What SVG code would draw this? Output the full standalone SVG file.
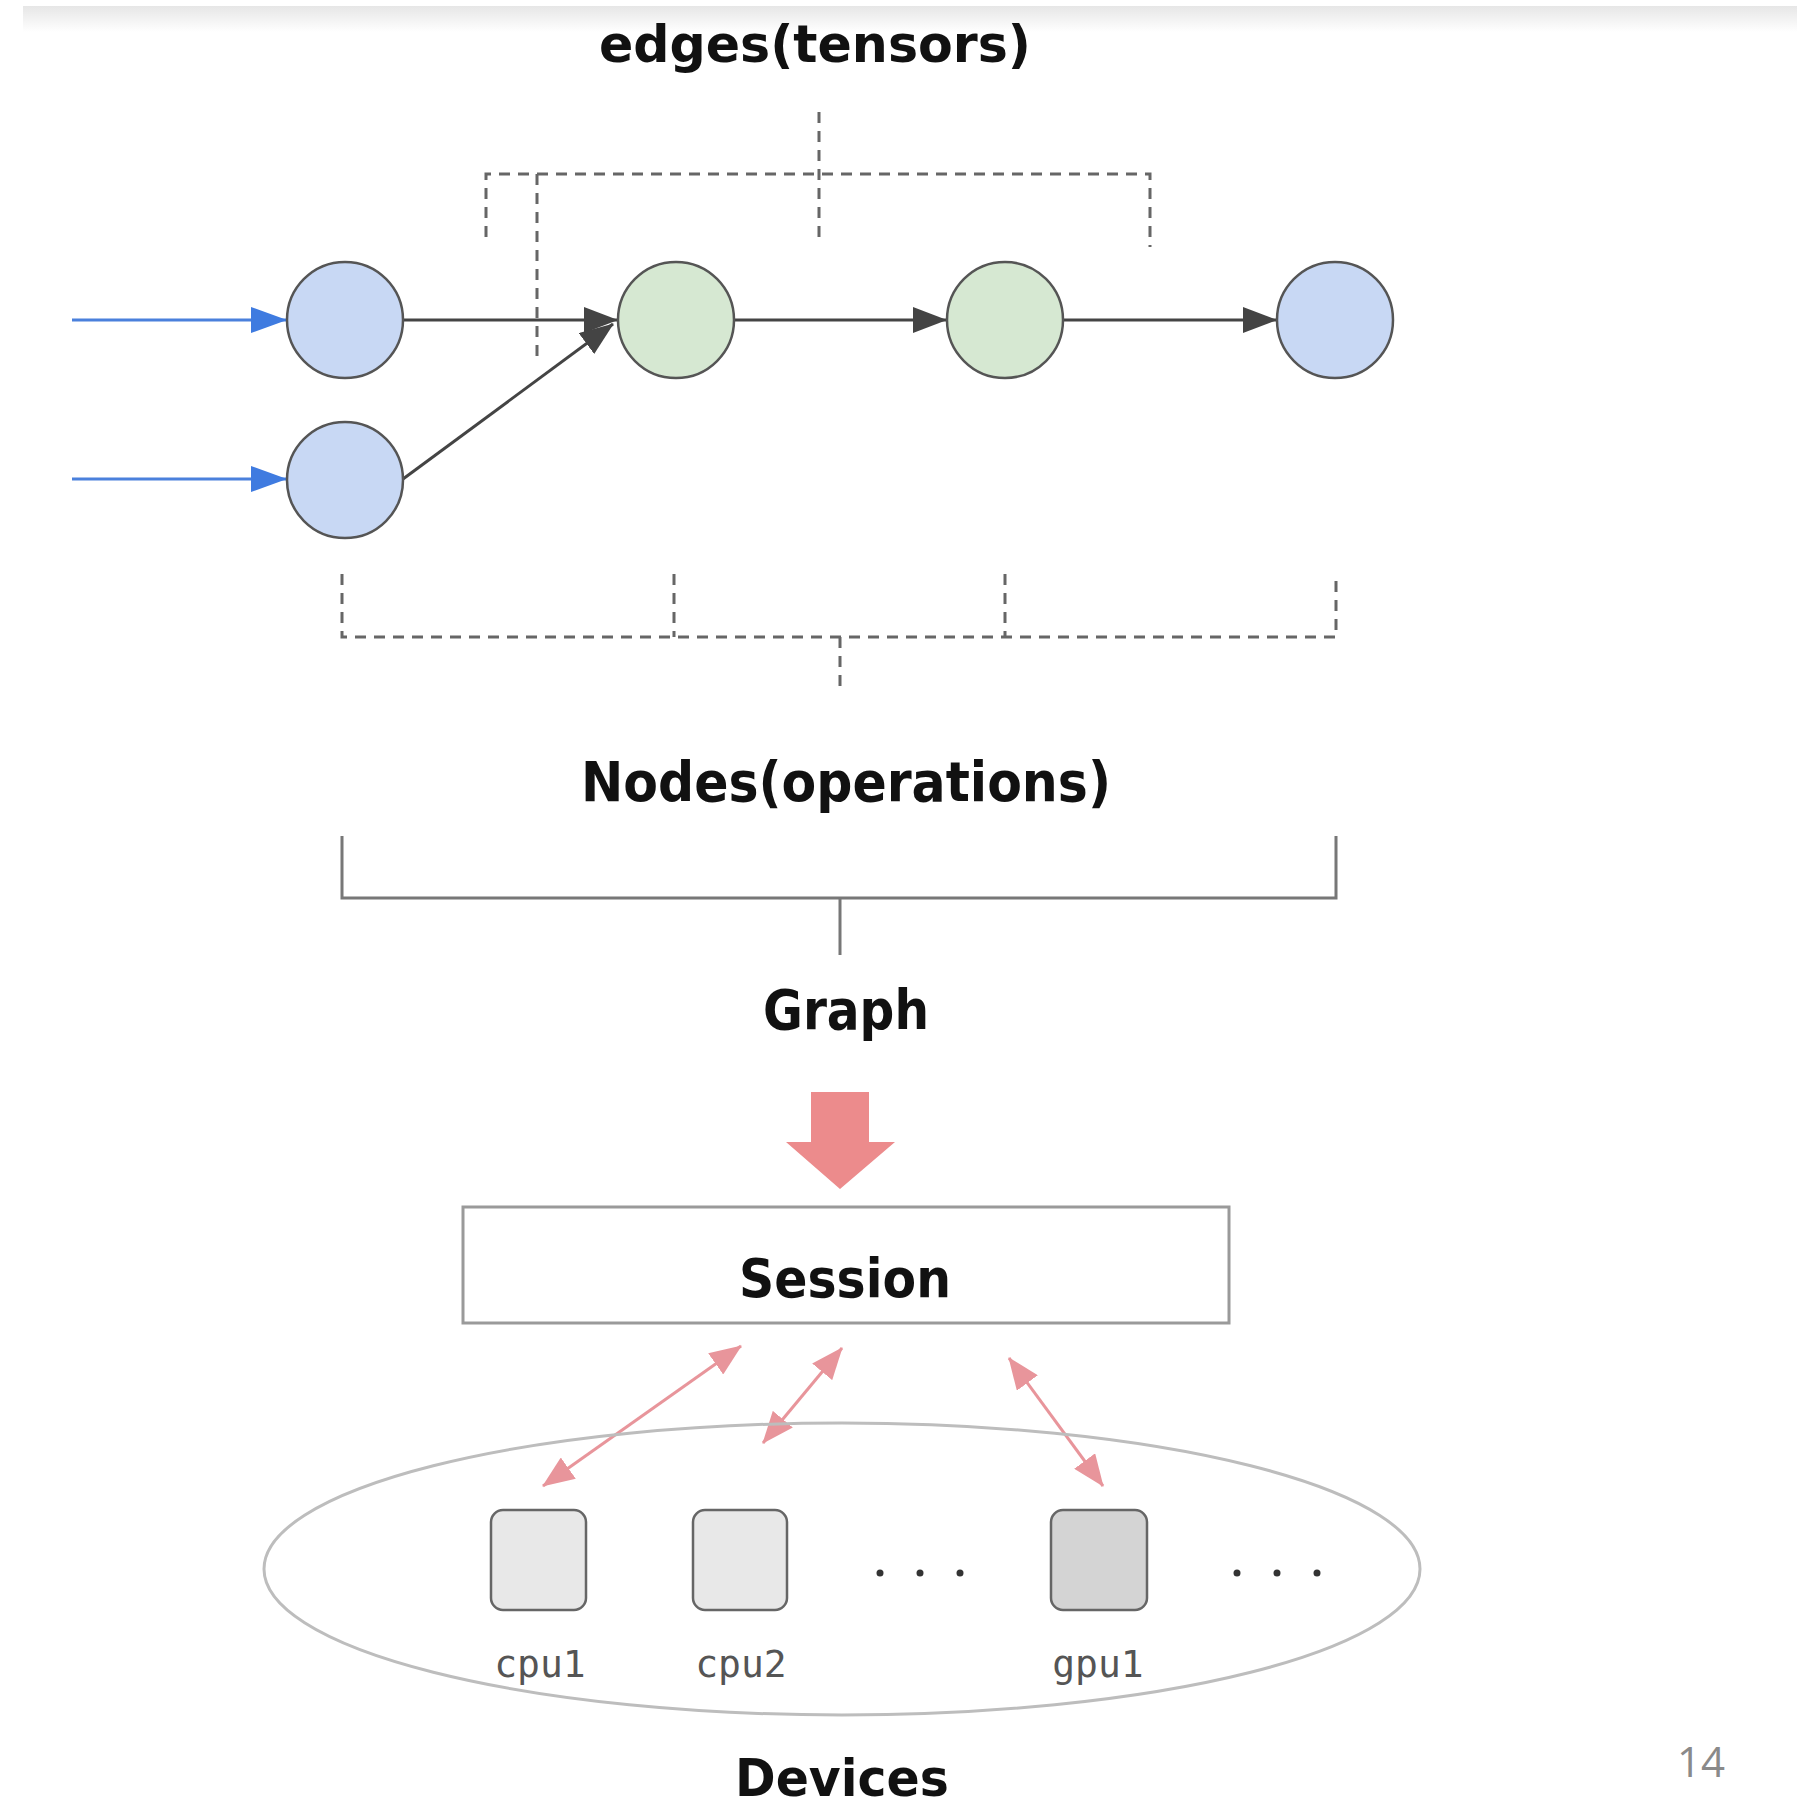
<svg xmlns="http://www.w3.org/2000/svg" width="1817" height="1809" viewBox="0 0 1817 1809">
  <defs>
    <linearGradient id="topband" x1="0" y1="0" x2="0" y2="1">
      <stop offset="0" stop-color="#e6e6e6"/>
      <stop offset="1" stop-color="#ffffff"/>
    </linearGradient>
    <marker id="ah-dark" markerUnits="userSpaceOnUse" markerWidth="34" markerHeight="26" refX="33" refY="13" orient="auto">
      <path d="M0,0 L34,13 L0,26 z" fill="#444444"/>
    </marker>
    <marker id="ah-blue" markerUnits="userSpaceOnUse" markerWidth="36" markerHeight="26" refX="35" refY="13" orient="auto">
      <path d="M0,0 L36,13 L0,26 z" fill="#3f7be0"/>
    </marker>
    <marker id="ah-pink" markerUnits="userSpaceOnUse" markerWidth="32" markerHeight="26" refX="31" refY="13" orient="auto-start-reverse">
      <path d="M0,0 L32,13 L0,26 z" fill="#e8959b"/>
    </marker>
    <style>
      .label { font-family: "DejaVu Sans", Verdana, sans-serif; font-weight: bold; fill: #111111; text-anchor: middle; }
      .dev { font-family: "DejaVu Sans Mono", "Liberation Mono", monospace; font-size: 38px; fill: #555555; text-anchor: middle; }
      .op-in { fill: #c8d8f4; stroke: #555555; stroke-width: 2.5; }
      .op-mid { fill: #d6e8d2; stroke: #555555; stroke-width: 2.5; }
      .dash { fill: none; stroke: #666666; stroke-width: 3; stroke-dasharray: 11 8; }
      .solid { fill: none; stroke: #777777; stroke-width: 3; }
      .flow { stroke: #444444; stroke-width: 3; fill: none; marker-end: url(#ah-dark); }
      .feed { stroke: #4a80dc; stroke-width: 3; fill: none; marker-end: url(#ah-blue); }
      .link { stroke: #e8959b; stroke-width: 3; fill: none; marker-start: url(#ah-pink); marker-end: url(#ah-pink); }
      .device { fill: #e8e8e8; stroke: #666666; stroke-width: 2.5; }
      .device-gpu { fill: #d4d4d4; stroke: #666666; stroke-width: 2.5; }
      .dot { fill: #333333; }
    </style>
  </defs>

  <rect x="0" y="0" width="1817" height="1809" fill="#ffffff"/>
  <!-- faint band along the top edge -->
  <rect x="23" y="6" width="1774" height="26" fill="url(#topband)"/>

  <!-- titles -->
  <text id="edges-label" class="label" x="815" y="62" font-size="52" textLength="432" lengthAdjust="spacingAndGlyphs">edges(tensors)</text>
  <text id="nodes-label" class="label" x="846" y="801" font-size="55" textLength="530" lengthAdjust="spacingAndGlyphs">Nodes(operations)</text>
  <text id="graph-label" class="label" x="846" y="1029" font-size="55" textLength="166" lengthAdjust="spacingAndGlyphs">Graph</text>

  <!-- brackets -->
  <g id="brackets">
    <!-- edges bracket (dashed) -->
    <path class="dash" d="M819,112 V245"/>
    <path class="dash" d="M486,237 V174 H1150 V247"/>
    <path class="dash" d="M537,174 V357"/>
    <!-- nodes bracket (dashed) -->
    <path class="dash" d="M342,574 V637 H1336 V574"/>
    <path class="dash" d="M674,574 V637"/>
    <path class="dash" d="M1005,574 V637"/>
    <path class="dash" d="M840,637 V686"/>
    <!-- graph bracket (solid) -->
    <path class="solid" d="M342,836 V898 H1336 V836"/>
    <path class="solid" d="M840,898 V955"/>
  </g>

  <!-- connectors -->
  <g id="connectors">
    <line class="feed" x1="72" y1="320" x2="286" y2="320"/>
    <line class="feed" x1="72" y1="479" x2="286" y2="479"/>
    <line class="flow" x1="403" y1="320" x2="617" y2="320"/>
    <line class="flow" x1="403" y1="479" x2="613" y2="324"/>
    <line class="flow" x1="734" y1="320" x2="946" y2="320"/>
    <line class="flow" x1="1063" y1="320" x2="1276" y2="320"/>
    <line class="link" x1="741" y1="1346" x2="543" y2="1486"/>
    <line class="link" x1="842" y1="1348" x2="763" y2="1443"/>
    <line class="link" x1="1009" y1="1358" x2="1103" y2="1486"/>
  </g>

  <!-- graph nodes -->
  <g id="node-in1"><circle class="op-in" cx="345" cy="320" r="58"/></g>
  <g id="node-in2"><circle class="op-in" cx="345" cy="480" r="58"/></g>
  <g id="node-op1"><circle class="op-mid" cx="676" cy="320" r="58"/></g>
  <g id="node-op2"><circle class="op-mid" cx="1005" cy="320" r="58"/></g>
  <g id="node-out"><circle class="op-in" cx="1335" cy="320" r="58"/></g>

  <!-- graph to session arrow -->
  <g id="run-arrow">
    <path d="M811,1092 H869 V1142 H895 L840,1189 L786,1142 H811 z" fill="#ec8b8c"/>
  </g>

  <!-- session -->
  <g id="session">
    <rect x="463" y="1207" width="766" height="116" fill="#ffffff" stroke="#9a9a9a" stroke-width="3"/>
    <text class="label" x="845" y="1297" font-size="54" textLength="212" lengthAdjust="spacingAndGlyphs">Session</text>
  </g>

  <!-- devices -->
  <g id="devices">
    <ellipse cx="842" cy="1569" rx="578" ry="146" fill="none" stroke="#bdbdbd" stroke-width="3"/>
    <g id="dev-cpu1">
      <rect class="device" x="491" y="1510" width="95" height="100" rx="12"/>
      <text class="dev" x="540" y="1677">cpu1</text>
    </g>
    <g id="dev-cpu2">
      <rect class="device" x="693" y="1510" width="94" height="100" rx="12"/>
      <text class="dev" x="741" y="1677">cpu2</text>
    </g>
    <g id="dev-gpu1">
      <rect class="device-gpu" x="1051" y="1510" width="96" height="100" rx="12"/>
      <text class="dev" x="1098" y="1677">gpu1</text>
    </g>
    <g id="ellipsis-1">
      <circle class="dot" cx="880" cy="1573" r="3.5"/>
      <circle class="dot" cx="920" cy="1573" r="3.5"/>
      <circle class="dot" cx="960" cy="1573" r="3.5"/>
    </g>
    <g id="ellipsis-2">
      <circle class="dot" cx="1237" cy="1573" r="3.5"/>
      <circle class="dot" cx="1277" cy="1573" r="3.5"/>
      <circle class="dot" cx="1317" cy="1573" r="3.5"/>
    </g>
  </g>
  <text id="devices-label" class="label" x="842" y="1796" font-size="52" textLength="214" lengthAdjust="spacingAndGlyphs">Devices</text>

  <!-- page number -->
  <text x="1701" y="1777" font-family="'Open Sans', 'Liberation Sans', sans-serif" font-size="42" fill="#8a8a8a" text-anchor="middle">14</text>
</svg>
